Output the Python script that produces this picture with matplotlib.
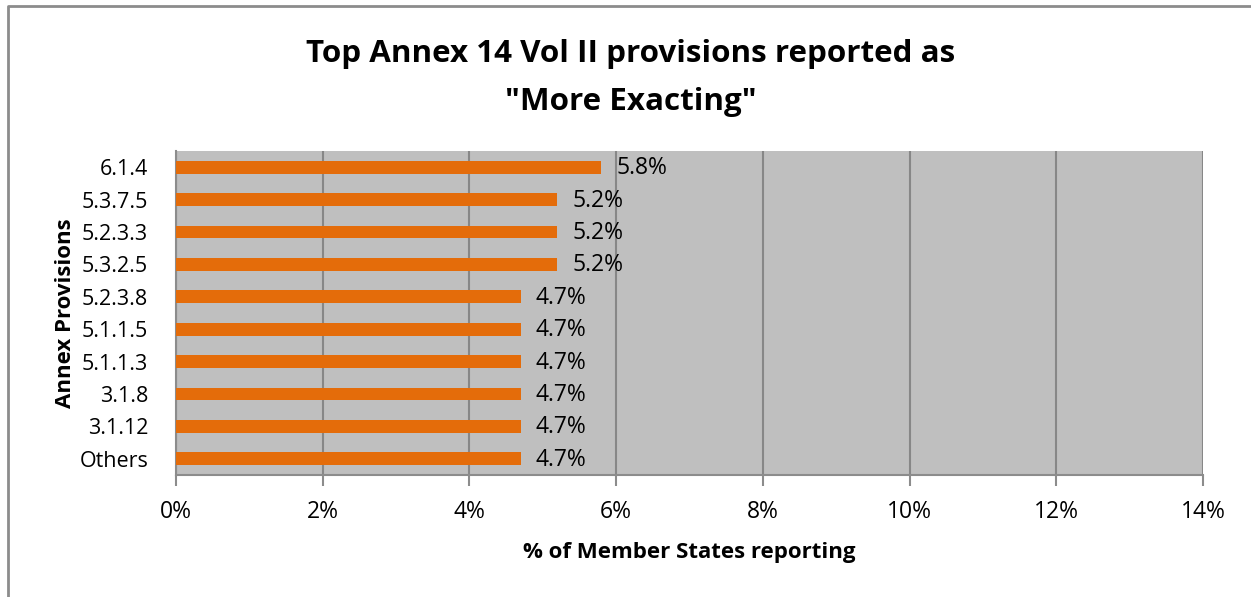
import matplotlib.pyplot as plt
from matplotlib.lines import Line2D

provisions = ['6.1.4', '5.3.7.5', '5.2.3.3', '5.3.2.5', '5.2.3.8',
              '5.1.1.5', '5.1.1.3', '3.1.8', '3.1.12', 'Others']
percent = [5.8, 5.2, 5.2, 5.2, 4.7, 4.7, 4.7, 4.7, 4.7, 4.7]
xticks = [0, 2, 4, 6, 8, 10, 12, 14]

plt.rcParams['font.family'] = ['Open Sans', 'DejaVu Sans']

fig = plt.figure(figsize=(12.51, 5.97), dpi=100)
ax = fig.add_axes([176 / 1251, 1 - 475 / 597, 1027 / 1251, 324 / 597])

# outer chart border (cut off at right and bottom in the original)
fig.add_artist(Line2D([8 / 1251, 8 / 1251, 1.0], [0.0, 1 - 6 / 597, 1 - 6 / 597],
                      transform=fig.transFigure, color='#8c8c8c', lw=2))

ax.set_facecolor('#BFBFBF')
pos = list(range(len(provisions)))[::-1]
ax.barh(pos, percent, height=0.4, color='#E46C0A', zorder=3)
for p, v in zip(pos, percent):
    ax.text(v + 0.2, p - 0.03, f'{v:.1f}%', va='center', ha='left',
            fontsize=16.5, color='black', zorder=4)

ax.set_xlim(0, 14)
ax.set_ylim(-0.5, len(provisions) - 0.5)
ax.set_xticks(xticks)
ax.set_xticklabels([f'{t}%' for t in xticks], fontsize=16.5)
ax.set_yticks(pos)
ax.set_yticklabels(provisions, fontsize=15.5)
ax.tick_params(axis='y', length=0, pad=20)
ax.tick_params(axis='x', length=8, color='#8c8c8c', width=1.5, pad=10)
ax.grid(axis='x', color='#878787', lw=1.5, zorder=1)

for side in ['top', 'right']:
    ax.spines[side].set_visible(False)
for side in ['left', 'bottom']:
    ax.spines[side].set_color('#8c8c8c')
    ax.spines[side].set_linewidth(1.5)

ax.set_xlabel('% of Member States reporting', fontsize=16, fontweight='bold', labelpad=13)
ax.set_ylabel('Annex Provisions', fontsize=16, fontweight='bold')
ax.yaxis.set_label_coords((76 - 176) / 1027, 0.5)

fig.text(631 / 1251, 1 - 78 / 597, 'Top Annex 14 Vol II provisions reported as\n"More Exacting"',
         ha='center', va='center', fontsize=22.6, fontweight='bold', linespacing=1.74)

fig.savefig('out.png', dpi=100)
